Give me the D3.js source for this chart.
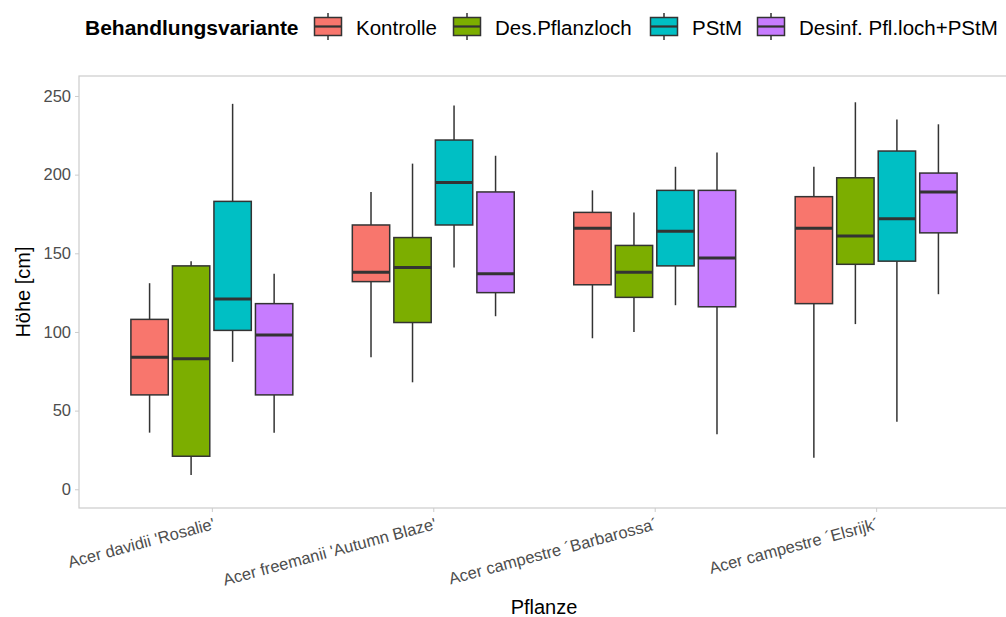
<!DOCTYPE html>
<html>
<head>
<meta charset="utf-8">
<script src="https://cdn.jsdelivr.net/npm/d3@7"></script>
<style>
  body { margin: 0; background: #fff; }
  text { font-family: "Liberation Sans", Arial, sans-serif; }
</style>
</head>
<body>
<div id="chart"></div>
<script>
var plants = ["Acer davidii 'Rosalie'", "Acer freemanii 'Autumn Blaze'", "Acer campestre \u00b4Barbarossa\u00b4", "Acer campestre \u00b4Elsrijk\u00b4"];
var treatments = ["Kontrolle", "Des.Pflanzloch", "PStM", "Desinf. Pfl.loch+PStM"];
var colors = ["#F8766D", "#7CAE00", "#00BFC4", "#C77CFF"];
var yTicks = [0, 50, 100, 150, 200, 250];

// [whisker low, q1, median, q3, whisker high] per plant, in treatment order
var kontrolle = [[36, 60, 84, 108, 131], [84, 132, 138, 168, 189], [96, 130, 166, 176, 190], [20, 118, 166, 186, 205]];
var desPflanzloch = [[9, 21, 83, 142, 145], [68, 106, 141, 160, 207], [100, 122, 138, 155, 176], [105, 143, 161, 198, 246]];
var pstm = [[81, 101, 121, 183, 245], [141, 168, 195, 222, 244], [117, 142, 164, 190, 205], [43, 145, 172, 215, 235]];
var desinfPstm = [[36, 60, 98, 118, 137], [110, 125, 137, 189, 212], [35, 116, 147, 190, 214], [124, 163, 189, 201, 232]];
var series = [kontrolle, desPflanzloch, pstm, desinfPstm];

var width = 1006, height = 617;
var margin = {left: 79, right: -3, top: 76, bottom: 109};
var tickFont = "16.5px", titleFont = "20px", legendFont = "20.5px";

var svg = d3.select("#chart").append("svg")
    .attr("width", width)
    .attr("height", height);

var x = d3.scalePoint()
    .domain(plants)
    .range([margin.left, width - margin.right])
    .padding(0.6);

var groupW = x.step() * 0.75;
var sub = d3.scaleBand()
    .domain(treatments)
    .range([-groupW / 2, groupW / 2]);

var y = d3.scaleLinear()
    .domain([-11.9, 262.7])
    .range([height - margin.bottom, margin.top]);

// panel border
svg.append("rect")
    .attr("x", margin.left)
    .attr("y", margin.top)
    .attr("width", width - margin.right - margin.left)
    .attr("height", height - margin.bottom - margin.top)
    .attr("fill", "none")
    .attr("stroke", "#cccccc")
    .attr("stroke-width", 1.2);

// y axis
var yAxis = svg.append("g")
    .attr("transform", "translate(" + margin.left + ",0)")
    .call(d3.axisLeft(y).tickValues(yTicks).tickSize(4).tickPadding(4));
yAxis.select(".domain").remove();
yAxis.selectAll(".tick line").attr("stroke", "#cccccc");
yAxis.selectAll(".tick text")
    .attr("fill", "#4d4d4d")
    .style("font-size", tickFont)
    .style("font-family", "Liberation Sans, Arial, sans-serif");

// x axis
var xAxis = svg.append("g")
    .attr("transform", "translate(0," + (height - margin.bottom) + ")")
    .call(d3.axisBottom(x).tickSize(4));
xAxis.select(".domain").remove();
xAxis.selectAll(".tick line").attr("stroke", "#cccccc");
xAxis.selectAll(".tick text")
    .attr("fill", "#4d4d4d")
    .style("font-size", tickFont)
    .style("font-family", "Liberation Sans, Arial, sans-serif")
    .attr("text-anchor", "end")
    .attr("y", 0)
    .attr("dy", "0.8em")
    .attr("transform", "translate(0,8) rotate(-15)");

// boxes
var boxW = sub.bandwidth() * 0.9;
treatments.forEach(function(t, ti) {
    var g = svg.append("g");
    series[ti].forEach(function(s, pi) {
        var cx = x(plants[pi]) + sub(t) + sub.bandwidth() / 2;
        g.append("line")
            .attr("x1", cx).attr("x2", cx)
            .attr("y1", y(s[0])).attr("y2", y(s[1]))
            .attr("stroke", "#333").attr("stroke-width", 1.5);
        g.append("line")
            .attr("x1", cx).attr("x2", cx)
            .attr("y1", y(s[3])).attr("y2", y(s[4]))
            .attr("stroke", "#333").attr("stroke-width", 1.5);
        g.append("rect")
            .attr("x", cx - boxW / 2)
            .attr("y", y(s[3]))
            .attr("width", boxW)
            .attr("height", y(s[1]) - y(s[3]))
            .attr("fill", colors[ti])
            .attr("stroke", "#333")
            .attr("stroke-width", 1.5);
        g.append("line")
            .attr("x1", cx - boxW / 2).attr("x2", cx + boxW / 2)
            .attr("y1", y(s[2])).attr("y2", y(s[2]))
            .attr("stroke", "#333").attr("stroke-width", 3);
    });
});

// axis titles
svg.append("text")
    .attr("x", (margin.left + width - margin.right) / 2)
    .attr("y", 614)
    .attr("text-anchor", "middle")
    .style("font-size", titleFont)
    .attr("fill", "#000")
    .text("Pflanze");

svg.append("text")
    .attr("transform", "translate(30," + ((margin.top + height - margin.bottom) / 2) + ") rotate(-90)")
    .attr("text-anchor", "middle")
    .style("font-size", titleFont)
    .attr("fill", "#000")
    .text("H\u00f6he [cm]");

// legend
var legend = svg.append("g");
legend.append("text")
    .attr("x", 85).attr("y", 34.5)
    .style("font-size", "21px")
    .style("font-weight", "bold")
    .text("Behandlungsvariante");

var keyX = [314, 453, 650, 757];
treatments.forEach(function(t, i) {
    var k = legend.append("g").attr("transform", "translate(" + keyX[i] + ",0)");
    k.append("line").attr("x1", 14).attr("x2", 14).attr("y1", 13).attr("y2", 40)
        .attr("stroke", "#333").attr("stroke-width", 1.5);
    k.append("rect").attr("x", 0.5).attr("y", 17.5).attr("width", 27).attr("height", 18)
        .attr("fill", colors[i]).attr("stroke", "#333").attr("stroke-width", 1.5);
    k.append("line").attr("x1", 0.5).attr("x2", 27.5).attr("y1", 26.5).attr("y2", 26.5)
        .attr("stroke", "#333").attr("stroke-width", 2.2);
    k.append("text")
        .attr("x", 42).attr("y", 34.5)
        .style("font-size", legendFont)
        .text(t);
});
</script>
</body>
</html>
